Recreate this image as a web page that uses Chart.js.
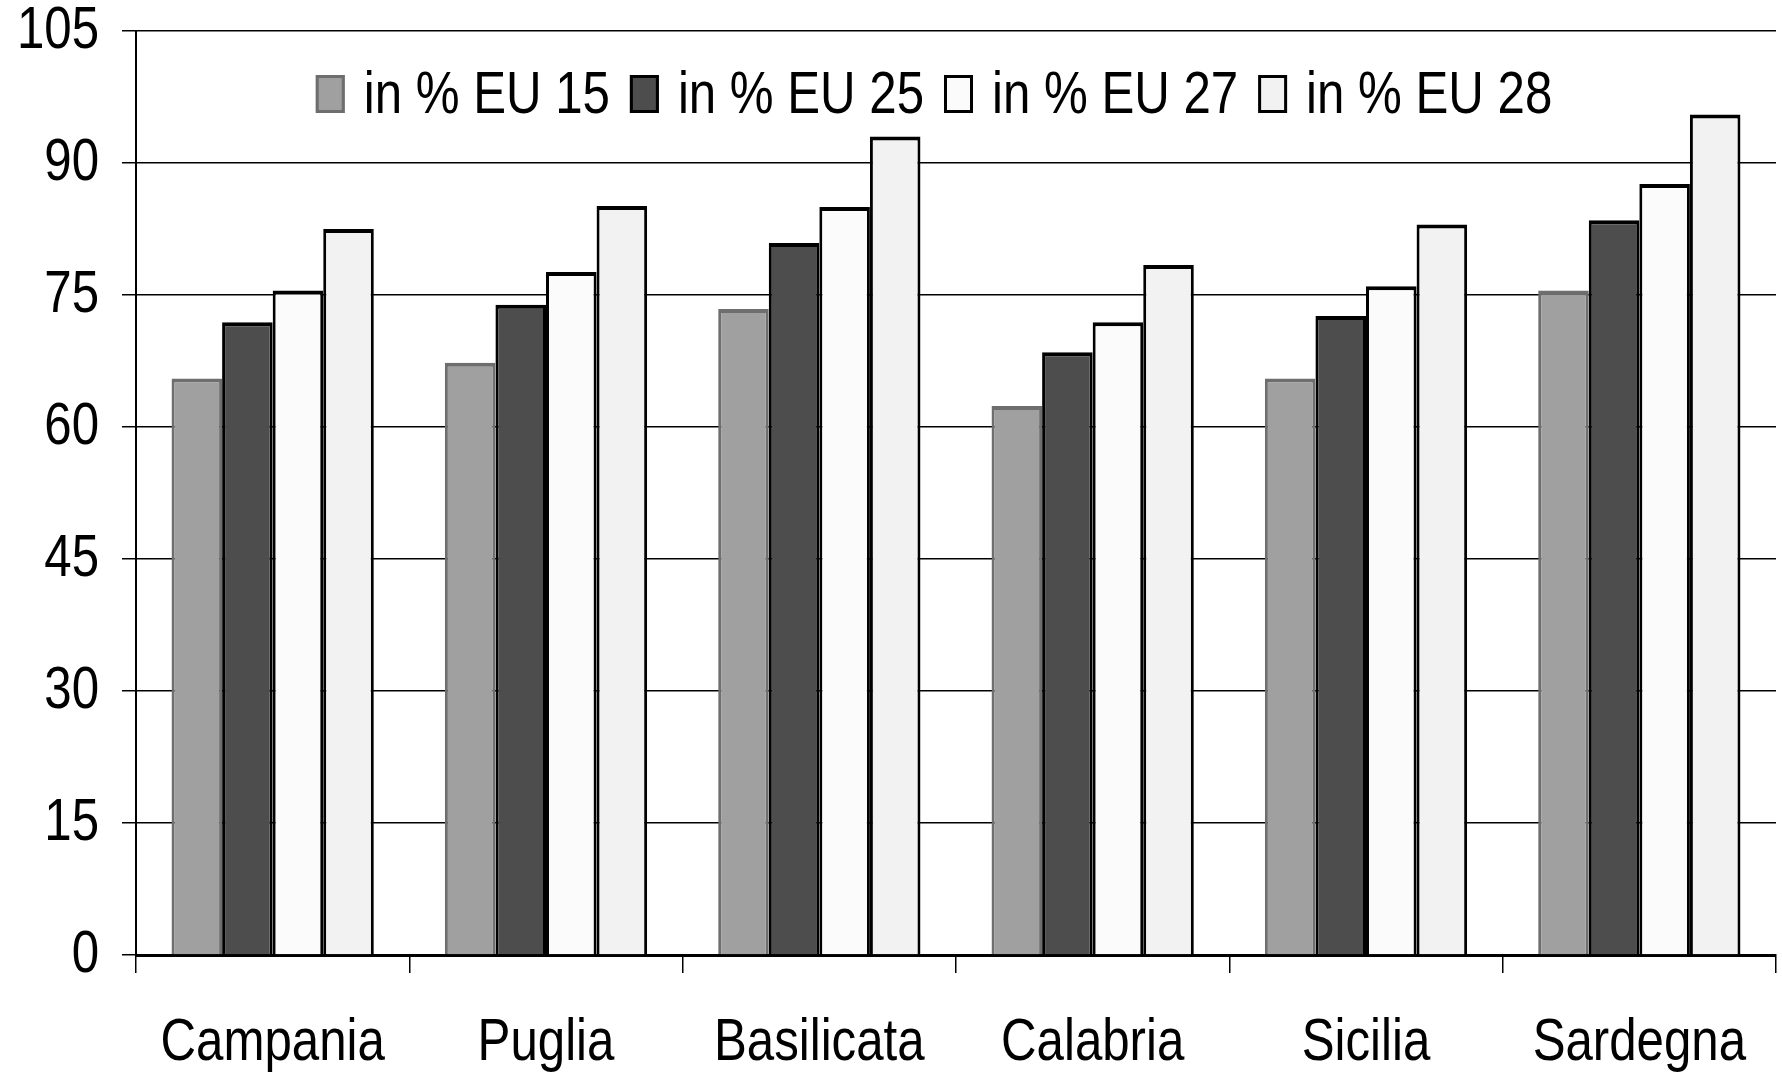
<!DOCTYPE html>
<html lang="it">
<head>
    <meta charset="UTF-8">
    <title>PIL pro capite Mezzogiorno</title>
    <script src="https://cdn.jsdelivr.net/npm/chart.js@4"></script>
    <style>
        body {
            margin: 0;
            background-color: white;
        }
        #wrap {
            width: 1782px;
            height: 1079px;
            position: relative;
        }
    </style>
</head>
<body>
    <div id="wrap"><canvas id="regionChart"></canvas></div>
    <script>
        // values
        const categories = ['Campania', 'Puglia', 'Basilicata', 'Calabria', 'Sicilia', 'Sardegna'];
        const seriesNames = ['in % EU 15', 'in % EU 25', 'in % EU 27', 'in % EU 28'];
        const eu15 = [65.5, 67.3, 73.4, 62.4, 65.5, 75.5];
        const eu25 = [71.9, 73.9, 80.9, 68.5, 72.6, 83.5];
        const eu27 = [75.5, 77.6, 85.0, 71.9, 76.0, 87.6];
        const eu28 = [82.5, 85.1, 93.0, 78.4, 83.0, 95.5];
        const yTicks = [0, 15, 30, 45, 60, 75, 90, 105];

        const FONT = '"Liberation Sans", Arial, sans-serif';
        // no Arial Narrow here, so squeeze Liberation Sans horizontally
        const NARROW = 0.82;
        const fills = ['#a0a0a0', '#4d4d4d', '#fbfbfb', '#f2f2f2'];
        const borders = ['#6e6e6e', '#000000', '#000000', '#000000'];
        const allSeries = [eu15, eu25, eu27, eu28];

        const ctx = document.getElementById('regionChart').getContext('2d');
        const rawFillText = ctx.fillText;
        ctx.fillText = function (text, x, y) {
            this.save();
            this.translate(x, y);
            this.scale(NARROW, 1);
            rawFillText.call(this, text, 0, 0);
            this.restore();
        };

        // legend drawn inside the plot area, like the original
        const insideLegend = {
            id: 'insideLegend',
            afterDatasetsDraw(chart) {
                const c = chart.ctx;
                const area = chart.chartArea;
                const boxW = 29, boxH = 38, gap = 19, itemGap = 20;
                c.save();
                c.font = '60px ' + FONT;
                const items = chart.data.datasets.map(ds => ({
                    ds: ds,
                    w: c.measureText(ds.label).width * NARROW
                }));
                let total = 0;
                items.forEach(it => { total += boxW + gap + it.w; });
                total += itemGap * (items.length - 1);
                let x = (area.left + area.right) / 2 - 22 - total / 2;
                const base = area.top + 82;
                items.forEach(it => {
                    c.fillStyle = it.ds.backgroundColor;
                    c.fillRect(x, base - boxH, boxW, boxH);
                    c.lineWidth = 3;
                    c.strokeStyle = it.ds.borderColor;
                    c.strokeRect(x + 1.5, base - boxH + 1.5, boxW - 3, boxH - 3);
                    c.fillStyle = '#000';
                    c.textBaseline = 'alphabetic';
                    c.textAlign = 'left';
                    c.fillText(it.ds.label, x + boxW + gap, base);
                    x += boxW + gap + it.w + itemGap;
                });
                c.restore();
            }
        };

        const chart = new Chart(ctx, {
            type: 'bar',
            data: {
                labels: categories,
                datasets: allSeries.map((vals, i) => ({
                    label: seriesNames[i],
                    data: vals,
                    backgroundColor: fills[i],
                    borderColor: borders[i],
                    borderWidth: { top: 4, left: 3, right: 3, bottom: 0 },
                    borderSkipped: 'bottom',
                    categoryPercentage: 0.74,
                    barPercentage: 1.0
                }))
            },
            options: {
                responsive: true,
                maintainAspectRatio: false,
                animation: false,
                layout: {
                    padding: { top: 31, right: 6, left: 0, bottom: 0 }
                },
                plugins: {
                    legend: { display: false },
                    tooltip: { enabled: false }
                },
                scales: {
                    x: {
                        grid: {
                            offset: true,
                            drawOnChartArea: false,
                            drawTicks: true,
                            tickLength: 18,
                            color: '#000',
                            lineWidth: 1.5
                        },
                        border: { display: true, color: '#000', width: 3 },
                        ticks: {
                            color: '#000',
                            padding: 40,
                            autoSkip: false,
                            maxRotation: 0,
                            font: { family: FONT, size: 60, lineHeight: 1 }
                        },
                        afterFit: s => {
                            s.height = 124;
                            s.paddingLeft = 0;
                            s.paddingRight = 0;
                        }
                    },
                    y: {
                        min: 0,
                        max: 105,
                        afterBuildTicks: s => { s.ticks = yTicks.map(v => ({ value: v })); },
                        grid: {
                            color: '#000',
                            lineWidth: 1.5,
                            drawTicks: true,
                            tickLength: 14
                        },
                        border: { display: true, color: '#000', width: 2 },
                        ticks: {
                            color: '#000',
                            padding: 23,
                            font: { family: FONT, size: 60, lineHeight: 0.2 }
                        },
                        afterFit: s => { s.width = 136; }
                    }
                }
            },
            plugins: [insideLegend]
        });
    </script>
</body>
</html>
